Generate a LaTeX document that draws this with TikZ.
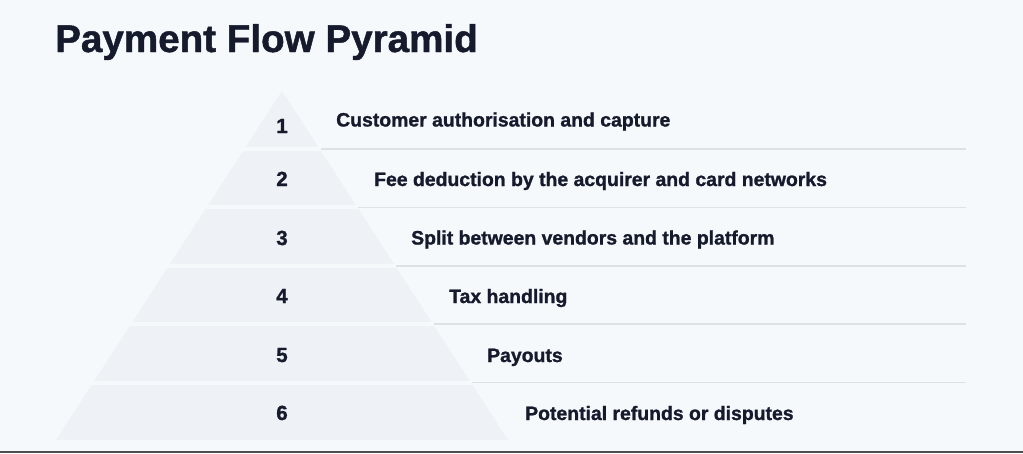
\documentclass[tikz,border=0pt]{standalone}
\usepackage{fontspec}
\setmainfont{Liberation Sans}[BoldFeatures={FakeBold=1.2}]
\definecolor{bgc}{HTML}{F6F9FC}
\definecolor{pyrc}{HTML}{EEF1F5}
\definecolor{sepc}{HTML}{DDE2E7}
\definecolor{inkc}{HTML}{161A2D}
\definecolor{rulec}{HTML}{4D4D4D}
\begin{document}
\begin{tikzpicture}[x=1pt,y=-1pt,
  rowtext/.style={anchor=base west,inner sep=0pt,text=inkc,font=\bfseries\fontsize{19.4}{23}\selectfont},
  numtext/.style={anchor=base,inner sep=0pt,text=inkc,font=\bfseries\fontsize{20.5}{24}\selectfont},
  titletext/.style={anchor=base west,inner sep=0pt,text=inkc,font=\bfseries\fontsize{38.6}{44}\selectfont},
  gapline/.style={draw=bgc,line width=4pt},
  sepline/.style={draw=sepc,line width=1.6pt}]
\fill[bgc] (0,0) rectangle (1023,453);
\useasboundingbox (0,0) rectangle (1023,453);
\fill[rulec] (0,450.8) rectangle (1023,453);
% title
\node[titletext] (title) at (55,52) {Payment Flow Pyramid};
% pyramid
\fill[pyrc] (282,91) -- (508,440) -- (56,440) -- cycle;
\foreach \yy/\xe [count=\k] in {149/319.6,207.4/357.4,265.8/395.2,324.2/433.0,382.6/470.8}{
  \coordinate (gl\k) at (40,\yy);
  \coordinate (ge\k) at (\xe+1,\yy);
  \coordinate (se\k) at (966,\yy);
  \draw[gapline] (gl\k) -- (ge\k);
  \draw[sepline] (ge\k) -- (se\k);
}
% numbers
\node[numtext] (n1) at (282,133) {1};
\node[numtext] (n2) at (282,186) {2};
\node[numtext] (n3) at (282,245) {3};
\node[numtext] (n4) at (282,303) {4};
\node[numtext] (n5) at (282,362) {5};
\node[numtext] (n6) at (282,420) {6};
% texts
\node[rowtext] (t1) at (336,126.5) {Customer authorisation and capture};
\node[rowtext] (t2) at (374,186) {Fee deduction by the acquirer and card networks};
\node[rowtext] (t3) at (411,244.5) {Split between vendors and the platform};
\node[rowtext] (t4) at (449,303) {Tax handling};
\node[rowtext] (t5) at (487,362) {Payouts};
\node[rowtext] (t6) at (525,420) {Potential refunds or disputes};
\end{tikzpicture}
\end{document}
